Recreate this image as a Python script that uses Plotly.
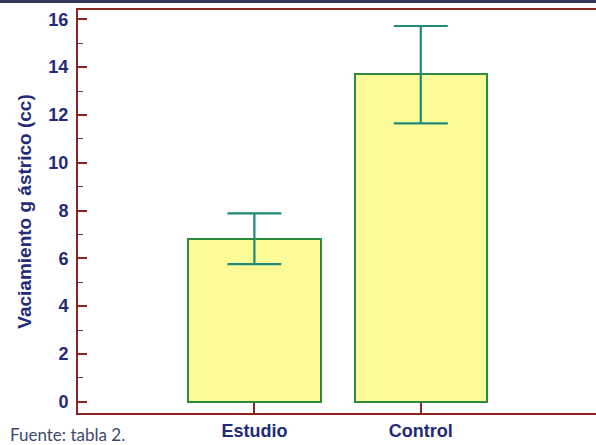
import plotly.graph_objects as go

categories = ["Estudio", "Control"]
means = [6.81, 13.72]
err_plus = [1.07, 2.00]
err_minus = [1.05, 2.07]
y_tickvals = [0, 2, 4, 6, 8, 10, 12, 14, 16]
y_title = "Vaciamiento g ástrico (cc)"
source_note = "Fuente: tabla 2."

navy = "#232a78"
axis_red = "#8b2323"

fig = go.Figure()
fig.add_trace(go.Bar(
    x=[0, 1], y=means, width=0.795,
    marker=dict(color="#fdfb98", line=dict(color="#2e8b3e", width=2)),
    error_y=dict(type="data", symmetric=False, array=err_plus, arrayminus=err_minus,
                 color="#1f8a7a", thickness=2.2, width=27),
    showlegend=False,
))

fig.update_layout(
    width=596, height=445,
    margin=dict(l=78, r=0, t=10, b=32, autoexpand=False),
    paper_bgcolor="white", plot_bgcolor="white",
    bargap=0,
    xaxis=dict(range=[-1.06, 2.053], tickvals=[0, 1], ticktext=categories,
               showgrid=False, zeroline=False, automargin=False,
               showline=True, linecolor=axis_red, linewidth=2, mirror=True,
               ticks="inside", ticklen=10, tickwidth=2, tickcolor=axis_red,
               tickfont=dict(family="Liberation Sans, Arial", size=18, color=navy, weight="bold")),
    yaxis=dict(range=[-0.47, 16.39], tickvals=y_tickvals,
               showgrid=False, zeroline=False, automargin=False,
               showline=True, linecolor=axis_red, linewidth=2,
               ticks="inside", ticklen=9, tickwidth=2, tickcolor=axis_red,
               ticklabelstandoff=4,
               minor=dict(dtick=1, tick0=1, ticks="inside", ticklen=5, tickwidth=1, tickcolor="#7a3a3a"),
               tickfont=dict(family="Liberation Sans, Arial", size=18, color=navy, weight="bold"),
               title=dict(text=y_title, standoff=12,
                          font=dict(family="Liberation Sans, Arial", size=19, color=navy, weight="bold"))),
)

fig.add_shape(type="rect", xref="paper", yref="paper", x0=-0.2, x1=1.05,
              y0=1.0174, y1=1.03, fillcolor="#2f3a5a", line=dict(width=0), layer="above")

fig.add_annotation(text=source_note, xref="paper", yref="paper",
                   x=-0.135, y=-0.022, xanchor="left", yanchor="top", showarrow=False,
                   font=dict(family="Lato, Open Sans", size=17, color="#3b4a6b"))

fig.write_html("out.html", config={"displayModeBar": False},
               post_script="document.body.style.margin='0px';document.body.style.overflow='hidden';")
